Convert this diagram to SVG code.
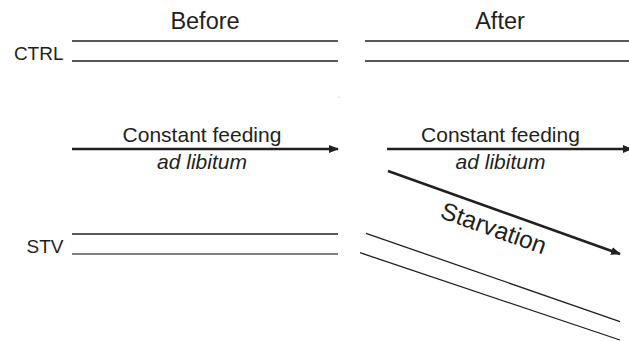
<svg xmlns="http://www.w3.org/2000/svg" width="629" height="341" viewBox="0 0 629 341">
<style>
.t{font-family:"Liberation Sans",Arial,sans-serif;fill:#231f20}
.h{font-size:23.5px;text-anchor:middle}
.lab{font-size:19px;text-anchor:end}
.cf{font-size:21px;text-anchor:middle}
.it{font-style:italic}
.thin{stroke:#231f20;stroke-width:1.3;fill:none}
.grey{stroke:#555;stroke-width:1.6}
.thick{stroke:#231f20;stroke-width:2.6;fill:none;marker-end:url(#ah)}
</style>
<defs>
<marker id="ah" viewBox="0 0 10 8" refX="9" refY="4" markerWidth="10" markerHeight="8" markerUnits="userSpaceOnUse" orient="auto">
<path d="M0,0 L10,4 L0,8 Z" fill="#231f20"/>
</marker>
</defs>
<g id="headers">
<text class="t h" x="205" y="29">Before</text>
<text class="t h" x="500" y="29">After</text>
</g>
<g id="ctrl">
<text class="t lab" x="63.5" y="60">CTRL</text>
<line class="thin" x1="72" y1="41" x2="338" y2="41"/>
<line class="thin" x1="72" y1="61" x2="338" y2="61"/>
<line class="thin" x1="365" y1="41" x2="629" y2="41"/>
<line class="thin" x1="365" y1="61" x2="629" y2="61"/>
</g>
<g id="stv">
<text class="t lab" x="63.5" y="253">STV</text>
<line class="thin" x1="72" y1="234" x2="338" y2="234"/>
<line class="thin grey" x1="72" y1="254" x2="338" y2="254"/>
<line class="thin" x1="366" y1="233.3" x2="620" y2="321.7"/>
<line class="thin" x1="360" y1="252.7" x2="620" y2="340"/>
</g>
<g id="connectors">
<line class="thick" x1="72" y1="149" x2="338" y2="149"/>
<line class="thick" x1="387" y1="149" x2="632" y2="149"/>
<line class="thick" x1="388" y1="171" x2="620" y2="254"/>
</g>
<g id="labels">
<text class="t cf" x="202" y="141.7">Constant feeding</text>
<text class="t cf it" x="202" y="169">ad libitum</text>
<text class="t cf" x="500.5" y="141.7">Constant feeding</text>
<text class="t cf it" x="500.5" y="169">ad libitum</text>
<text class="t" font-size="24.5" text-anchor="middle" transform="translate(491,236) rotate(19.6)">Starvation</text>
</g>
<circle cx="339" cy="97" r="0.6" fill="#999"/>
</svg>
